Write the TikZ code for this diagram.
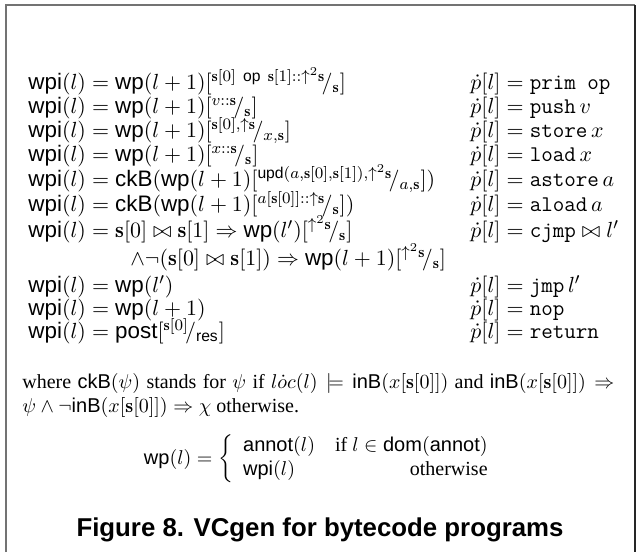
\documentclass[tikz,border=0pt]{standalone}
\usepackage{amsmath,amssymb}
\usepackage{fontspec}
\newfontfamily\hv{Liberation Sans}
\newfontfamily\tms{Liberation Serif}
\newcommand\msf[1]{\text{\hv #1}}
\newcommand\tb{\mathbf{s}}
\newcommand\sbs[2]{{}^{#1}\!/_{#2}}
\tikzset{
  lrow/.style={anchor=base west, inner sep=0pt, font=\fontsize{11.2}{13}\selectfont},
  rrow/.style={anchor=base west, inner sep=0pt, font=\fontsize{11.2}{13}\selectfont},
  framel/.style={draw=black!55, line width=1pt},
  framer/.style={draw=black!85, line width=1pt}
}
\begin{document}
\begin{tikzpicture}[x=0.5pt,y=-0.5pt]
\useasboundingbox (0,0) rectangle (640,552);
\draw[framel] (6,552) -- (6,5) -- (635,5);
\draw[framer] (635,5) -- (635,552);
% left column
\node[lrow] (l1) at (28,89) {$\msf{wpi}(l) = \msf{wp}(l+1)[\sbs{\tb[0]\ \msf{op}\ \tb[1]::\uparrow^2\tb}{\tb}]$};
\node[lrow] (l2) at (28,113) {$\msf{wpi}(l) = \msf{wp}(l+1)[\sbs{v::\tb}{\tb}]$};
\node[lrow] (l3) at (28,137) {$\msf{wpi}(l) = \msf{wp}(l+1)[\sbs{\tb[0],\uparrow\tb}{x,\tb}]$};
\node[lrow] (l4) at (28,161) {$\msf{wpi}(l) = \msf{wp}(l+1)[\sbs{x::\tb}{\tb}]$};
\node[lrow] (l5) at (28,186) {$\msf{wpi}(l) = \msf{ckB}(\msf{wp}(l+1)[\sbs{\msf{upd}(a,\tb[0],\tb[1]),\uparrow^2\tb}{a,\tb}])$};
\node[lrow] (l6) at (28,211) {$\msf{wpi}(l) = \msf{ckB}(\msf{wp}(l+1)[\sbs{a[\tb[0]]::\uparrow\tb}{\tb}])$};
\node[lrow] (l7) at (28,237) {$\msf{wpi}(l) = \tb[0] \bowtie \tb[1] \Rightarrow \msf{wp}(l')[\sbs{\uparrow^2\tb}{\tb}]$};
\node[lrow] (l7b) at (130,265) {$\wedge\neg(\tb[0] \bowtie \tb[1]) \Rightarrow \msf{wp}(l+1)[\sbs{\uparrow^2\tb}{\tb}]$};
\node[lrow] (l8) at (28,292) {$\msf{wpi}(l) = \msf{wp}(l')$};
\node[lrow] (l9) at (28,315) {$\msf{wpi}(l) = \msf{wp}(l+1)$};
\node[lrow] (l10) at (28,338) {$\msf{wpi}(l) = \msf{post}[\sbs{\tb[0]}{\msf{res}}]$};
% right column
\node[rrow] (r1) at (470,89) {$\dot{p}[l] = \texttt{prim op}$};
\node[rrow] (r2) at (470,113) {$\dot{p}[l] = \texttt{push}\,v$};
\node[rrow] (r3) at (470,137) {$\dot{p}[l] = \texttt{store}\,x$};
\node[rrow] (r4) at (470,161) {$\dot{p}[l] = \texttt{load}\,x$};
\node[rrow] (r5) at (470,186) {$\dot{p}[l] = \texttt{astore}\,a$};
\node[rrow] (r6) at (470,211) {$\dot{p}[l] = \texttt{aload}\,a$};
\node[rrow] (r7) at (470,237) {$\dot{p}[l] = \texttt{cjmp} \bowtie l'$};
\node[rrow] (r8) at (470,292) {$\dot{p}[l] = \texttt{jmp}\,l'$};
\node[rrow] (r9) at (470,315) {$\dot{p}[l] = \texttt{nop}$};
\node[rrow] (r10) at (470,338) {$\dot{p}[l] = \texttt{return}$};
% where text
\node[anchor=base west, inner sep=0pt, align=left, font=\fontsize{10}{12.2}\selectfont] (where) at (22,388) {\parbox[t]{296pt}{\tms where $\msf{ckB}(\psi)$ stands for $\psi$ if $l\dot{o}c(l) \models \msf{inB}(x[\tb[0]])$ and $\msf{inB}(x[\tb[0]]) \Rightarrow$\linebreak $\psi \wedge \neg\msf{inB}(x[\tb[0]]) \Rightarrow \chi$ otherwise.}};
% cases
\node[inner sep=0pt, font=\fontsize{10}{12}\selectfont] (cases) at (322,459) {$\msf{wp}(l) = \left\{\begin{array}{lr} \msf{annot}(l) & \text{\tms if } l \in \msf{dom}(\msf{annot}) \\ \msf{wpi}(l) & \text{\tms otherwise}\end{array}\right.$};
% caption
\node[inner sep=0pt] (cap) at (320,530) {\fontsize{12.9}{15}\selectfont\hv\bfseries Figure 8. VCgen for bytecode programs};
\end{tikzpicture}
\end{document}
